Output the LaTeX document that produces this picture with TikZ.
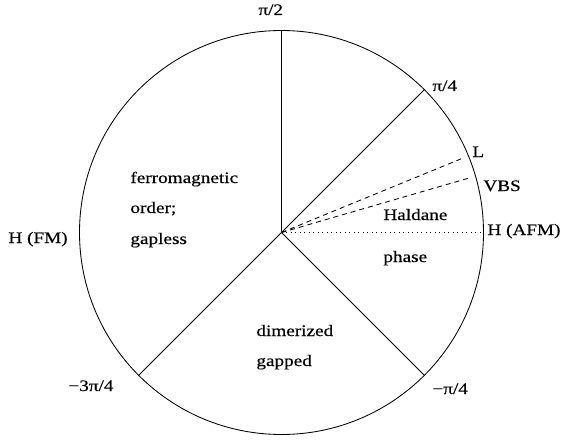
\documentclass[tikz,border=0pt]{standalone}
\usepackage{fontspec}
\setmainfont[FakeStretch=1.2,FakeBold=0.4]{Liberation Serif}
\begin{document}
\begin{tikzpicture}[x=1pt,y=1pt, line width=0.85pt,
  lbl/.style={anchor=base west, inner sep=0pt, font=\fontsize{16}{19}\selectfont},
  ring/.style={circle, draw, minimum size=404pt, inner sep=0pt, outer sep=0pt},
  dashline/.style={dash pattern=on 5pt off 4pt},
  dotline/.style={dash pattern=on 1.2pt off 3.3pt}]
\useasboundingbox (0,0) rectangle (564,440);
\coordinate (O) at (281.5,207.5);
\node[ring] (C) at (O) {};
% solid boundaries
\draw (O) -- (C.90);
\draw (O) -- (C.45);
\draw (O) -- (C.-45);
\draw (O) -- (C.225);
% dotted Haldane line
\draw[dotline] (O) -- (C.0);
% dashed lines
\coordinate (Lend) at ([shift={(22.3:196)}]O);
\coordinate (Vend) at ([shift={(16.2:198)}]O);
\draw[dashline] (O) -- (Lend);
\draw[dashline] (O) -- (Vend);
% angle labels
\node[lbl] (lpi2) at (258,425) {π/2};
\node[lbl] (lpi4) at (432,349) {π/4};
\node[lbl] (lL) at (472,283) {L};
\node[lbl] (lVBS) at (483,249) {VBS};
\node[lbl] (lHAFM) at (487,205) {H (AFM)};
\node[lbl] (lHFM) at (8,197) {H (FM)};
\node[lbl] (lm3pi4) at (68,49) {−3π/4};
\node[lbl] (lmpi4) at (432,46) {−π/4};
% phase labels
\node[lbl] (f1) at (130,257) {ferromagnetic};
\node[lbl] (f2) at (130,227) {order;};
\node[lbl] (f3) at (130,196) {gapless};
\node[lbl] (h1) at (383,220) {Haldane};
\node[lbl] (h2) at (383,178) {phase};
\node[lbl] (d1) at (256,104) {dimerized};
\node[lbl] (d2) at (256,74) {gapped};
\end{tikzpicture}
\end{document}
